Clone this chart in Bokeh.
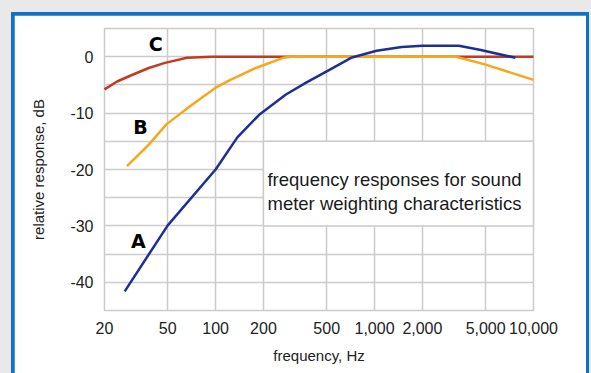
from bokeh.plotting import figure
from bokeh.layouts import column
from bokeh.models import FixedTicker, NumeralTickFormatter, PrintfTickFormatter
from bokeh.embed import file_html
from bokeh.resources import INLINE
from bokeh.core.properties import value

# ---- data ----
x_ticks = [20, 50, 100, 200, 500, 1000, 2000, 5000, 10000]
y_ticks = [0, -10, -20, -30, -40]
y_grid = [5, 0, -5, -10, -15, -20, -25, -30, -35, -40, -45]

c_freq = [20, 24, 30, 38, 48, 66, 95, 10000]
c_db = [-5.8, -4.4, -3.2, -2.0, -1.1, -0.2, 0.0, 0.0]

b_freq = [27.7, 38, 49, 69, 100, 124, 179, 266, 300, 3250, 5000, 10000]
b_db = [-19.4, -15.6, -12.0, -8.8, -5.5, -4.1, -2.0, -0.2, 0.0, 0.0, -1.4, -4.1]

a_freq = [26.8, 50, 100, 137, 188, 277, 371, 500, 712, 1030, 1483, 2000, 3394, 4580, 7690]
a_db = [-41.6, -29.9, -20.0, -14.3, -10.3, -6.7, -4.6, -2.6, -0.2, 1.06, 1.7, 1.95, 1.95, 1.24, -0.2]

curve_labels = ["C", "B", "A"]
curve_label_x = [42, 33.7, 32.7]
curve_label_y = [2.2, -12.55, -32.6]

note_lines = ["frequency responses for sound", "meter weighting characteristics"]
note_x = 212
note_y = [-21.8, -26.0]
note_box = dict(left=200, right=10000, top=-15, bottom=-30)

# ---- figure ----
GRID = "#cbcbcb"
BG = "#e9e9e9"
BLUE = "#0d72c8"
p = figure(width=572, height=358, x_axis_type="log",
           x_range=(20, 10000), y_range=(-45, 5),
           output_backend="svg", toolbar_location=None,
           min_border_left=90, min_border_right=53,
           min_border_top=13, min_border_bottom=63)
p.border_fill_color = "white"
p.background_fill_color = "white"
p.outline_line_color = GRID
p.outline_line_width = 1.5

p.xgrid.ticker = FixedTicker(ticks=x_ticks)
p.ygrid.ticker = FixedTicker(ticks=y_grid)
p.xgrid.grid_line_color = GRID
p.ygrid.grid_line_color = GRID
p.xgrid.grid_line_width = 1.5
p.ygrid.grid_line_width = 1.5
p.xgrid.level = "glyph"
p.ygrid.level = "glyph"

xa = p.xaxis[0]
xa.ticker = FixedTicker(ticks=x_ticks)
xa.formatter = NumeralTickFormatter(format="0,0")
xa.axis_label = "frequency, Hz"
xa.major_label_text_font = "Liberation Sans"
xa.major_label_text_font_size = "16px"
xa.major_label_standoff = 11

ya = p.yaxis[0]
ya.ticker = FixedTicker(ticks=y_ticks)
ya.formatter = PrintfTickFormatter(format="%d")
ya.axis_label = "relative response, dB"
ya.major_label_text_font = "Liberation Sans"
ya.major_label_text_font_size = "16px"
ya.major_label_text_align = "center"
ya.major_label_standoff = 11

for ax in (xa, ya):
    ax.axis_line_color = None
    ax.major_tick_line_color = None
    ax.minor_tick_line_color = None
    ax.major_tick_out = 0
    ax.major_tick_in = 0
    ax.minor_tick_out = 0
    ax.major_label_text_color = "#222222"
    ax.axis_label_text_color = "#222222"
    ax.axis_label_text_font = "Liberation Sans"
    ax.axis_label_text_font_style = "normal"
    ax.axis_label_text_font_size = "15px"
xa.axis_label_standoff = 10
ya.axis_label_standoff = 20

TOP = "annotation"  # drawn after the grid
p.quad(fill_color="white", line_color=GRID, line_width=1.5, level=TOP, **note_box)

p.line(c_freq, c_db, line_color="#c33a20", line_width=2.5, level=TOP)
p.line(b_freq, b_db, line_color="#f5a81e", line_width=2.5, level=TOP)
p.line(a_freq, a_db, line_color="#1c2f98", line_width=2.5, level=TOP)

p.text(x=curve_label_x, y=curve_label_y, text=curve_labels,
       text_font=value("DejaVu Sans"), text_font_style="bold",
       text_font_size="19px", text_align="center", text_baseline="middle",
       text_color="black", level=TOP)

p.text(x=[note_x, note_x], y=note_y, text=note_lines,
       text_font=value("Liberation Sans"), text_font_size="18.5px",
       text_align="left", text_baseline="alphabetic", text_color="#1a1a1a",
       level=TOP)

inner = column(p, styles={"background-color": BLUE, "padding": "3px 3px 0px 3px"})
outer = column(inner, styles={"background-color": BG,
                              "padding": "12px 2px 0px 11px"})

open("out.html", "w").write(file_html(outer, INLINE))
